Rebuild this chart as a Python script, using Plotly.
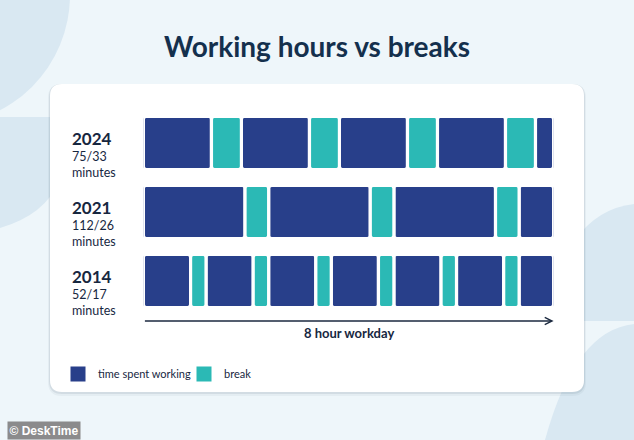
import plotly.graph_objects as go

# ---- data ----
years = ["2024", "2021", "2014"]
work_minutes = [75, 112, 52]
break_minutes = [33, 26, 17]
full_cycles = [4, 3, 6]          # number of work+break pairs drawn
last_work_minutes = [20, 38, 38]  # final (partial) work block
legend_names = ["time spent working", "break"]
axis_label = "8 hour workday"
title_text = "Working hours vs breaks"

W, H = 634, 440
BG = "#eef6fa"
CIRCLE = "#d9e8f2"
WORK_C = "#283f8a"
BREAK_C = "#2bb9b5"
TEXT_C = "#17273f"
GAP = 3.2


def px(x):
    return x / W


def py(y):
    return 1 - y / H


def p(x, y):
    return f"{px(x):.5f},{py(y):.5f}"


# build segments
work_y, work_x, work_base = [], [], []
brk_y, brk_x, brk_base = [], [], []
row_totals = []
for yr, w, b, n, last in zip(years, work_minutes, break_minutes, full_cycles, last_work_minutes):
    start = 0
    for _ in range(n):
        work_y.append(yr); work_x.append(w); work_base.append(start)
        start += w
        brk_y.append(yr); brk_x.append(b); brk_base.append(start)
        start += b
    work_y.append(yr); work_x.append(last); work_base.append(start)
    start += last
    row_totals.append(start)
total = max(row_totals)

fig = go.Figure()
fig.add_trace(go.Bar(
    orientation="h", y=work_y, x=work_x, base=work_base, width=0.77,
    marker=dict(color=WORK_C, line=dict(color="white", width=GAP)),
    showlegend=False, hoverinfo="skip"))
fig.add_trace(go.Bar(
    orientation="h", y=brk_y, x=brk_x, base=brk_base, width=0.77,
    marker=dict(color=BREAK_C, line=dict(color="white", width=GAP)),
    showlegend=False, hoverinfo="skip"))

# legend entries
for name, col in zip(legend_names, [WORK_C, BREAK_C]):
    fig.add_trace(go.Scatter(
        x=[None], y=[None], mode="markers", name=name,
        marker=dict(symbol="square", size=15, color=col)))

shapes = []
# decorative background shapes
shapes.append(dict(type="circle", xref="paper", yref="paper",
                   x0=px(-190), x1=px(70), y0=py(125), y1=py(-135),
                   fillcolor=CIRCLE, line=dict(width=0), layer="below"))
shapes.append(dict(type="path", xref="paper", yref="paper",
                   path=f"M{p(0,117)} L{p(60,117)} L{p(60,180)} Q{p(45,215)} {p(0,228)} Z",
                   fillcolor=CIRCLE, line=dict(width=0), layer="below"))
shapes.append(dict(type="path", xref="paper", yref="paper",
                   path=f"M{p(634,204)} Q{p(598,208)} {p(575,240)} L{p(575,321)} L{p(634,321)} Z",
                   fillcolor=CIRCLE, line=dict(width=0), layer="below"))
shapes.append(dict(type="path", xref="paper", yref="paper",
                   path=f"M{p(634,324)} Q{p(575,330)} {p(545,440)} L{p(634,440)} Z",
                   fillcolor=CIRCLE, line=dict(width=0), layer="below"))


def card(x0, y0, x1, y1, r):
    return (f"M{p(x0+r,y0)} L{p(x1-r,y0)} Q{p(x1,y0)} {p(x1,y0+r)} "
            f"L{p(x1,y1-r)} Q{p(x1,y1)} {p(x1-r,y1)} L{p(x0+r,y1)} "
            f"Q{p(x0,y1)} {p(x0,y1-r)} L{p(x0,y0+r)} Q{p(x0,y0)} {p(x0+r,y0)} Z")


# shadow layers + card
shapes.append(dict(type="path", xref="paper", yref="paper", path=card(48, 84, 586, 396, 14),
                   fillcolor="rgba(60,80,100,0.05)", line=dict(width=0), layer="below"))
shapes.append(dict(type="path", xref="paper", yref="paper", path=card(49, 84, 585, 394, 13),
                   fillcolor="rgba(60,80,100,0.10)", line=dict(width=0), layer="below"))
shapes.append(dict(type="path", xref="paper", yref="paper", path=card(50, 84, 584, 392, 12),
                   fillcolor="white", line=dict(width=0), layer="below"))

annotations = []
# row labels (category index positions)
subs = [f"{w}/{b}<br>minutes" for w, b in zip(work_minutes, break_minutes)]
for i, (yr, sub) in enumerate(zip(years, subs)):
    annotations.append(dict(x=px(69.5), xref="paper", y=i, yref="y", text=f"<b>{yr}</b>",
                            showarrow=False, xanchor="left", yanchor="middle", yshift=5,
                            font=dict(family="Lato", size=17, color=TEXT_C)))
    annotations.append(dict(x=px(70), xref="paper", y=i, yref="y", text=sub,
                            showarrow=False, xanchor="left", yanchor="top", yshift=-4,
                            align="left",
                            font=dict(family="Lato", size=12.5, color=TEXT_C)))

# axis arrow
annotations.append(dict(x=total, xref="x", y=py(321), yref="paper", ax=0, axref="x",
                        ay=0, text="", showarrow=True, arrowhead=5, arrowsize=1.1,
                        arrowwidth=1.3, arrowcolor="#1c2a40"))
annotations.append(dict(x=total / 2, xref="x", y=py(333), yref="paper", text=f"<b>{axis_label}</b>",
                        showarrow=False, xanchor="center", yanchor="middle",
                        font=dict(family="Lato", size=13, color=TEXT_C)))
# footer credit
annotations.append(dict(x=px(7), xref="paper", y=0, yref="paper", text="<b>© DeskTime</b>",
                        showarrow=False, xanchor="left", yanchor="bottom",
                        bgcolor="rgba(128,128,128,0.9)", borderpad=1.5,
                        font=dict(family="Liberation Sans", size=12, color="white")))

fig.update_layout(
    width=W, height=H,
    margin=dict(l=0, r=0, t=0, b=0),
    paper_bgcolor=BG, plot_bgcolor="rgba(0,0,0,0)",
    barmode="overlay", barcornerradius=3,
    title=dict(text=f"<b>{title_text}</b>", x=0.5, xanchor="center", y=py(47), yanchor="middle",
               font=dict(family="Lato", size=28, color="#14304d")),
    xaxis=dict(domain=[px(145 - GAP / 2), px(552 + GAP / 2)], range=[0, total],
               visible=False, fixedrange=True),
    yaxis=dict(domain=[py(315.5), py(108.5)], type="category", categoryorder="array",
               categoryarray=years, range=[2.5, -0.5], visible=False, fixedrange=True),
    showlegend=True,
    legend=dict(orientation="h", x=px(58), y=py(374), xanchor="left", yanchor="middle",
                bgcolor="rgba(0,0,0,0)", font=dict(family="Lato", size=11, color=TEXT_C),
                entrywidthmode="pixels", entrywidth=81, itemclick=False),
    shapes=shapes, annotations=annotations,
)

fig.write_html("out.html", config={"displayModeBar": False},
               post_script="document.body.style.margin='0';document.body.style.overflow='hidden';")
